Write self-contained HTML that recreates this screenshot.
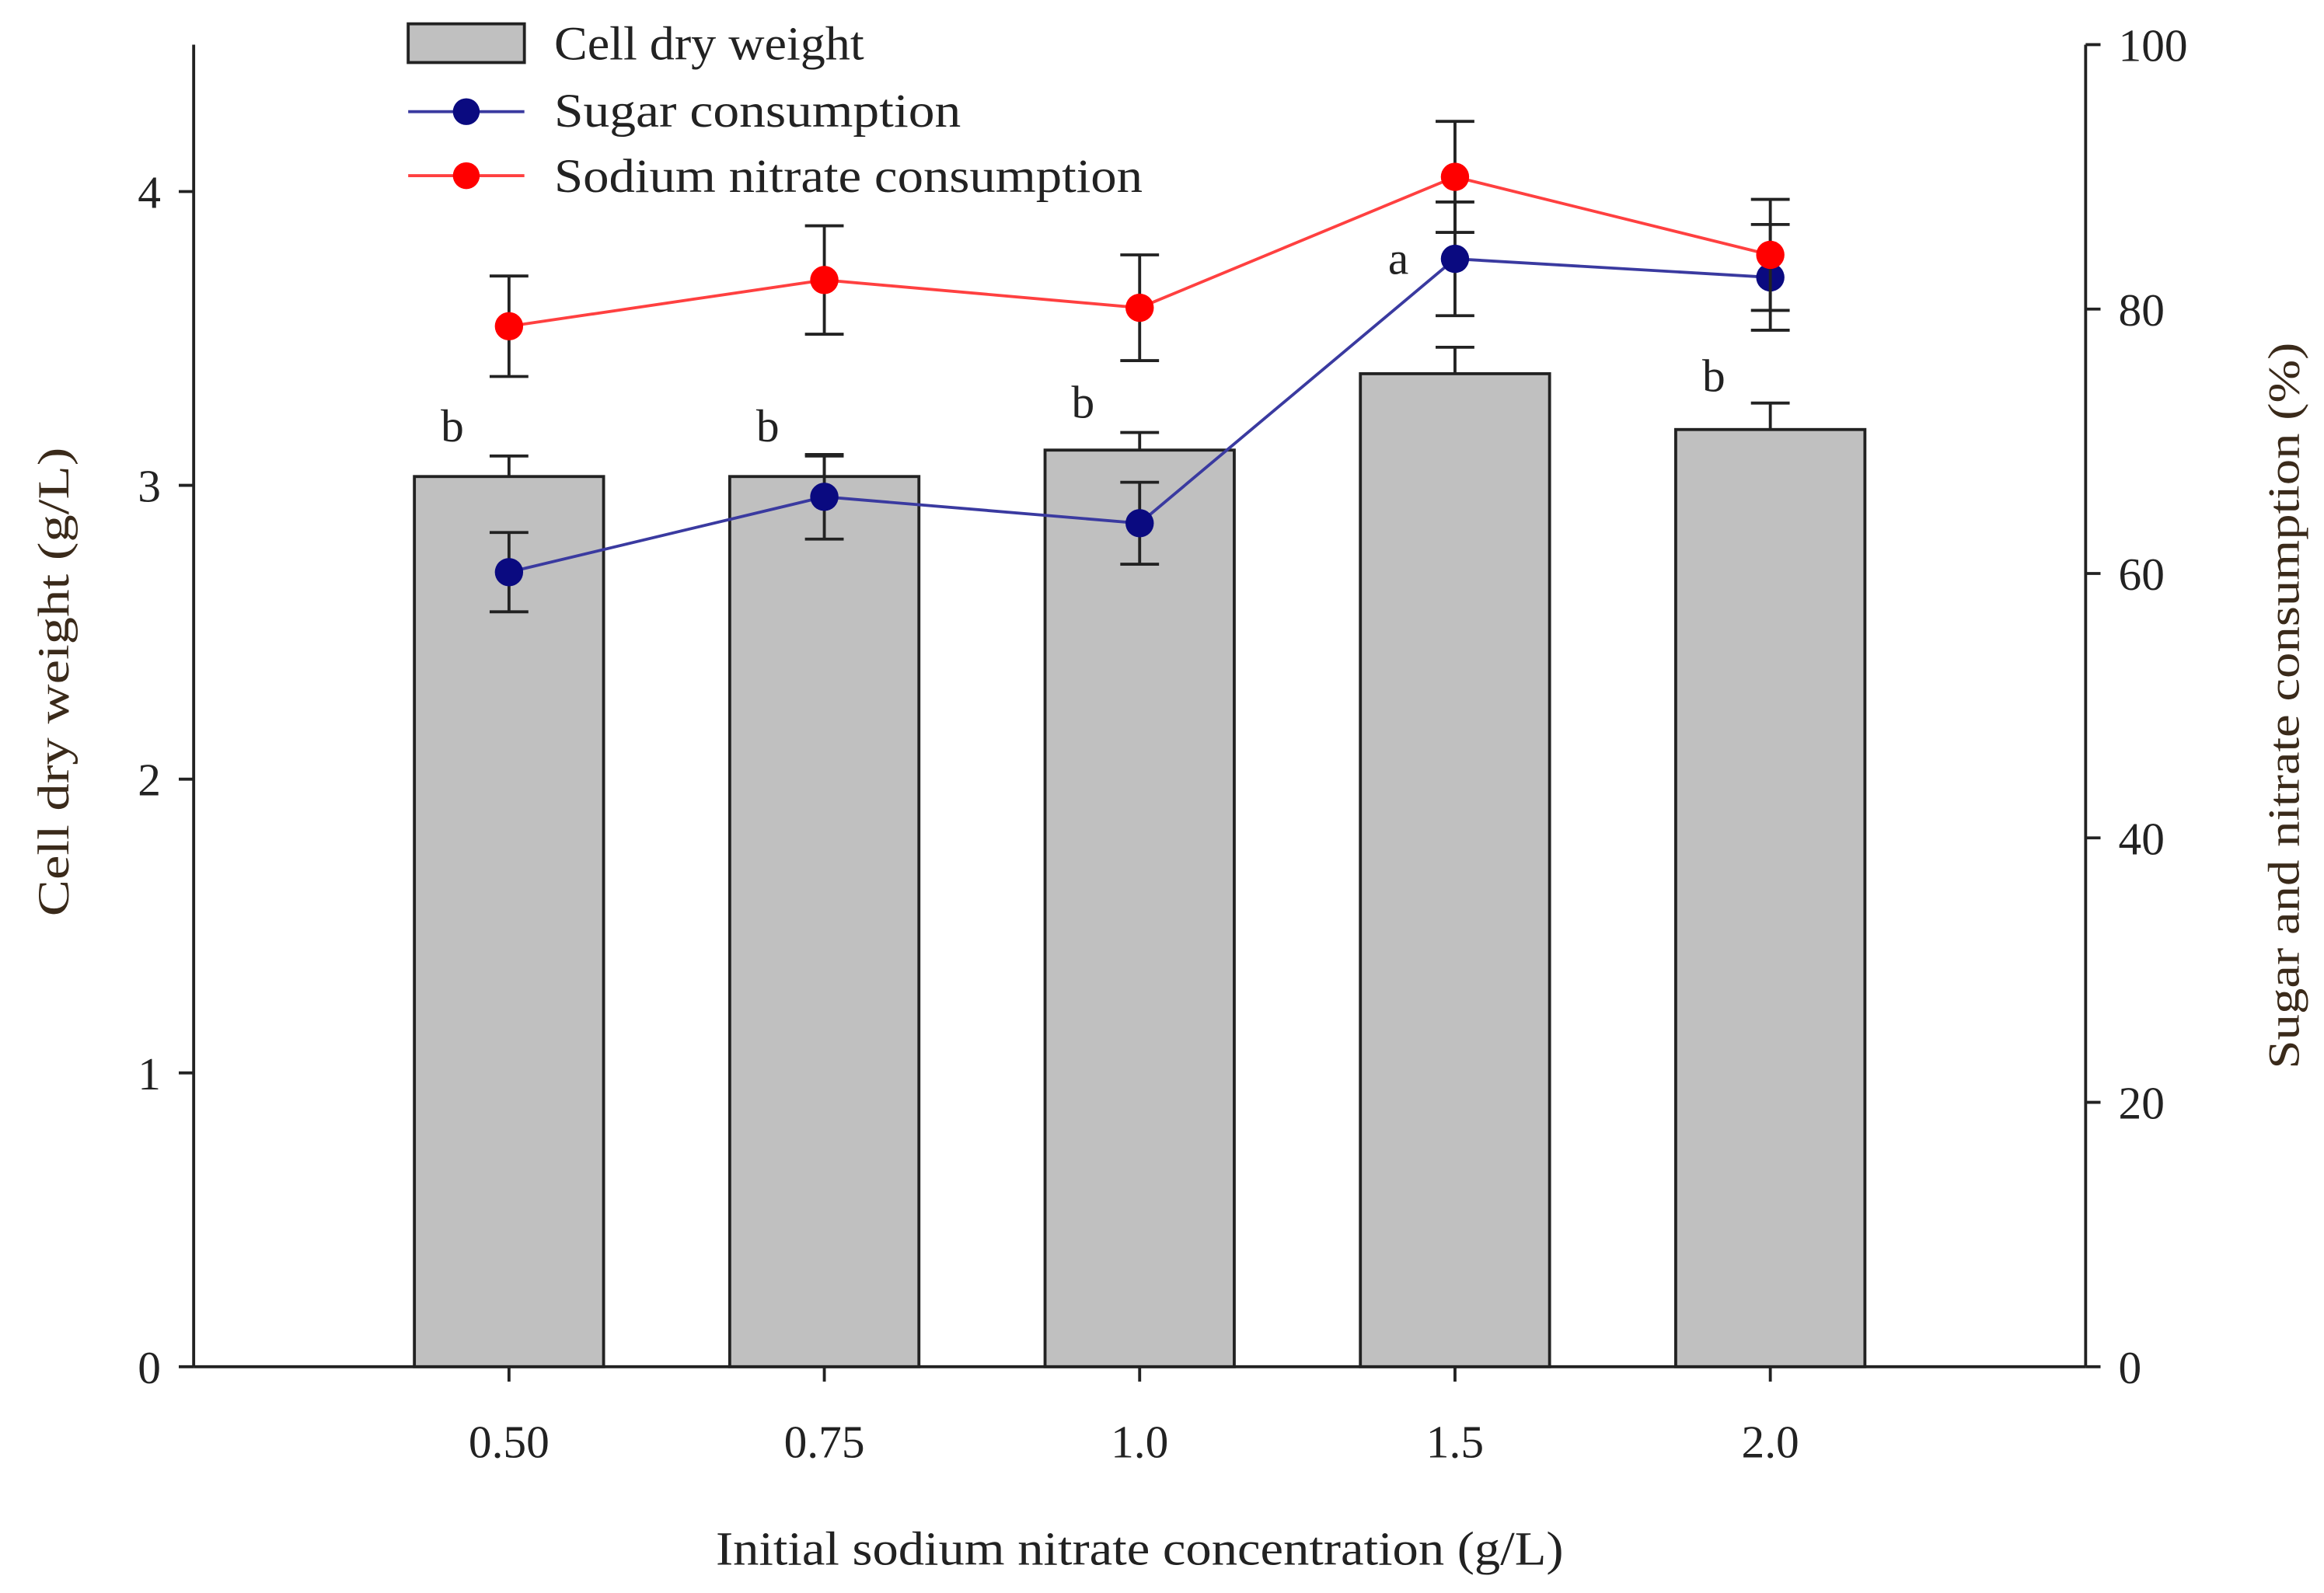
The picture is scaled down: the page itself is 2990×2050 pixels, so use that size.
<!DOCTYPE html>
<html><head><meta charset="utf-8"><style>
html,body{margin:0;padding:0;background:#fff;}
svg{display:block;font-family:"Liberation Serif",serif;}
</style></head><body>
<svg id="chart" width="2990" height="2050" viewBox="0 0 1560 1070" preserveAspectRatio="none" xmlns="http://www.w3.org/2000/svg">
<g id="axes"></g>
<g id="bars"></g>
<g id="lines"></g>
<g id="legend">
  <rect x="274" y="16" width="78" height="26" fill="#c0c0c0" stroke="#222" stroke-width="2"/>
  <text x="372" y="40" font-size="32" textLength="208" lengthAdjust="spacingAndGlyphs" fill="#222">Cell dry weight</text>
  <line x1="274" y1="75" x2="352" y2="75" stroke="#3a3aa0" stroke-width="2"/>
  <circle cx="313" cy="75" r="9" fill="#0a0a80"/>
  <text x="372" y="85" font-size="32" textLength="273" lengthAdjust="spacingAndGlyphs" fill="#222">Sugar consumption</text>
  <line x1="274" y1="118" x2="352" y2="118" stroke="#ff4040" stroke-width="2"/>
  <circle cx="313" cy="118" r="9" fill="#ff0000"/>
  <text x="372" y="129" font-size="32" textLength="395" lengthAdjust="spacingAndGlyphs" fill="#222">Sodium nitrate consumption</text>
</g>
<text x="765" y="1051" font-size="32" textLength="569" lengthAdjust="spacingAndGlyphs" text-anchor="middle" fill="#222">Initial sodium nitrate concentration (g/L)</text>
<text transform="translate(46,458) rotate(-90)" font-size="30" textLength="315" lengthAdjust="spacingAndGlyphs" text-anchor="middle" fill="#3a2a1a">Cell dry weight (g/L)</text>
<text transform="translate(1543,474) rotate(-90)" font-size="30" textLength="488" lengthAdjust="spacingAndGlyphs" text-anchor="middle" fill="#3a2a1a">Sugar and nitrate consumption (%)</text>
</svg>
<script>
const categories = ["0.50","0.75","1.0","1.5","2.0"];
const cellDryWeight = [3.03,3.03,3.12,3.38,3.19];
const cellDryWeightErr = [0.07,0.07,0.06,0.09,0.09];
const sugar = [60.1,65.8,63.8,83.8,82.4];
const sugarErr = [3.0,3.2,3.1,4.3,4.0];
const nitrate = [78.7,82.2,80.1,90.0,84.1];
const nitrateErr = [3.8,4.1,4.0,4.2,4.2];
const sigLetters = ["b","b","b","a","b"];
const sigLetterLevel = [3.15,3.15,3.23,3.72,3.32];
const leftTicks = [0,1,2,3,4];
const rightTicks = [0,20,40,60,80,100];

const NS="http://www.w3.org/2000/svg";
const X0=130,X1=1400,Y0=918,YT=30;
const xs=i=>X0+(X1-X0)*(i+1)/(categories.length+1);
const slot=(X1-X0)/(categories.length+1);
const yL=v=>Y0-(Y0-YT)*v/4.5;
const yR=v=>Y0-(Y0-YT)*v/100;
function mk(tag,attrs,parent,txt){const e=document.createElementNS(NS,tag);for(const k in attrs)e.setAttribute(k,attrs[k]);if(txt!==undefined)e.textContent=txt;parent.appendChild(e);return e;}
const axes=document.getElementById('axes'),bars=document.getElementById('bars'),lines=document.getElementById('lines');
let e;
e=mk('line',{x1:X0,y1:YT,x2:X0,y2:Y0,stroke:'#222','stroke-width':2},axes);


e=mk('line',{x1:X1,y1:YT,x2:X1,y2:Y0,stroke:'#222','stroke-width':2},axes);


e=mk('line',{x1:X0,y1:Y0,x2:X1,y2:Y0,stroke:'#222','stroke-width':2},axes);


leftTicks.forEach(t=>{
  e=mk('line',{x1:X0-10,y1:yL(t),x2:X0,y2:yL(t),stroke:'#222','stroke-width':2},axes);
  
  
  e=mk('text',{x:X0-22,y:yL(t)+11,'font-size':31,'text-anchor':'end',fill:'#222'},axes,String(t));
  
  
});
rightTicks.forEach(t=>{
  e=mk('line',{x1:X1,y1:yR(t),x2:X1+10,y2:yR(t),stroke:'#222','stroke-width':2},axes);
  
  
  e=mk('text',{x:X1+22,y:yR(t)+11,'font-size':31,'text-anchor':'start',fill:'#222'},axes,String(t));
  
  
});
categories.forEach((c,i)=>{
  const x=xs(i);
  e=mk('line',{x1:x,y1:Y0,x2:x,y2:Y0+10,stroke:'#222','stroke-width':2},axes);
  
  
  e=mk('text',{x:x,y:979,'font-size':31,'text-anchor':'middle',fill:'#222'},axes,c);
  
  
  const bw=slot*0.6,top=yL(cellDryWeight[i]);
  e=mk('rect',{x:x-bw/2,y:top,width:bw,height:Y0-top,fill:'#c0c0c0',stroke:'#222','stroke-width':2},bars);
  
  
  const et=yL(cellDryWeight[i]+cellDryWeightErr[i]);
  e=mk('path',{d:`M${x},${top}V${et}M${x-13},${et}H${x+13}`,stroke:'#222','stroke-width':2,fill:'none'},bars);
  
  
  e=mk('text',{x:x-38,y:yL(sigLetterLevel[i]),'font-size':31,'text-anchor':'middle',fill:'#222'},bars,sigLetters[i]);
  
  
});
function series(vals,errs,lineCol,dotCol,name){
  const pts=vals.map((v,i)=>xs(i)+','+yR(v)).join(' ');
  e=mk('polyline',{points:pts,fill:'none',stroke:lineCol,'stroke-width':2},lines);
  
  
  vals.forEach((v,i)=>{
    const x=xs(i),a=yR(v+errs[i]),b=yR(v-errs[i]);
    e=mk('path',{d:`M${x},${a}V${b}M${x-13},${a}H${x+13}M${x-13},${b}H${x+13}`,stroke:'#222','stroke-width':2,fill:'none'},lines);
    
    
  });
  vals.forEach((v,i)=>{
    e=mk('circle',{cx:xs(i),cy:yR(v),r:9.5,fill:dotCol},lines);
    
    
  });
}
series(sugar,sugarErr,'#3a3aa0','#0a0a80','sugar');
series(nitrate,nitrateErr,'#ff4040','#ff0000','nitrate');
</script>
</body></html>
